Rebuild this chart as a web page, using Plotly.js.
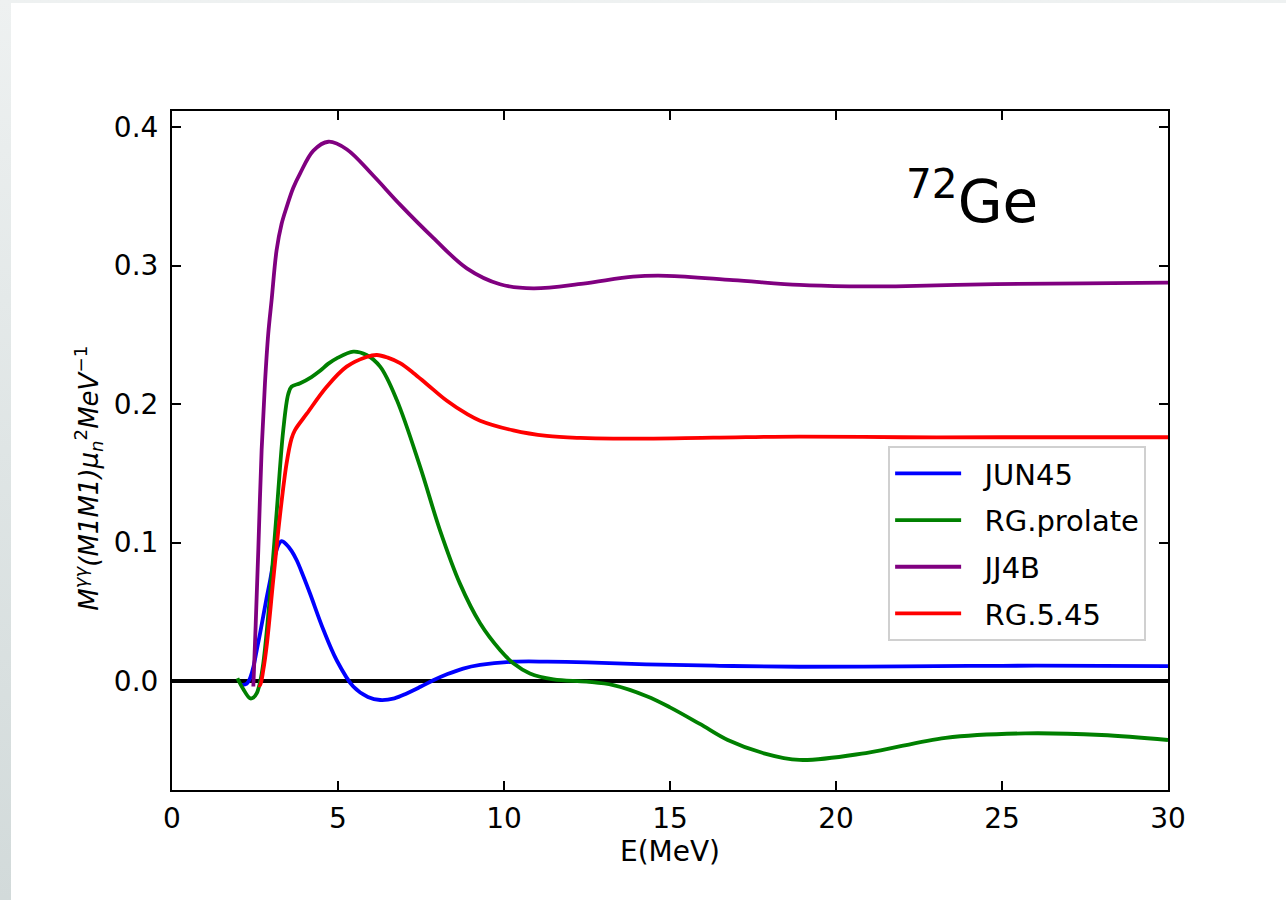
<!DOCTYPE html>
<html>
<head>
<meta charset="utf-8">
<script src="https://cdn.plot.ly/plotly-3.0.1.min.js"></script>
<style>
  html, body { margin: 0; padding: 0; width: 1286px; height: 900px; overflow: hidden;
    background: linear-gradient(to bottom, #eef1f1 0%, #dfe5e5 50%, #d2dada 100%); }
  #chart { position: absolute; left: 11px; top: 3px; width: 1275px; height: 897px; background: #ffffff; }
</style>
</head>
<body>
<div id="chart"></div>
<script>
// ---- data ----
const seriesNames = ["JUN45", "RG.prolate", "JJ4B", "RG.5.45"];

const jun45E = [2.1, 2.25, 2.35, 2.45, 2.55, 2.65, 2.85, 2.95, 3.05, 3.2, 3.3, 3.45, 3.6, 3.76, 3.95, 4.16, 4.56, 4.96, 5.46, 5.9, 6.27, 6.7, 7.07, 7.5, 7.87, 8.3, 8.77, 9.28, 10.28, 11.3, 12.5, 14.3, 16.5, 18.9, 22, 25, 28, 30];
const jun45V = [-0.003, -0.002, 0.002, 0.010, 0.022, 0.034, 0.060, 0.072, 0.085, 0.098, 0.101, 0.0985, 0.094, 0.087, 0.076, 0.063, 0.037, 0.015, -0.004, -0.0115, -0.0137, -0.0125, -0.009, -0.004, 0.0005, 0.005, 0.009, 0.0116, 0.0139, 0.014, 0.0135, 0.012, 0.011, 0.0103, 0.0105, 0.011, 0.011, 0.0108];

const prolateE = [1.97, 2.15, 2.35, 2.45, 2.55, 2.65, 2.75, 2.95, 3.15, 3.35, 3.5, 3.6, 3.86, 4.2, 4.46, 4.7, 4.96, 5.46, 5.86, 6.27, 6.77, 7.47, 8.07, 8.67, 9.28, 9.88, 10.28, 10.78, 11.49, 12.49, 13.29, 14.3, 15.0, 15.9, 16.74, 17.8, 18.9, 20.9, 23.3, 25.7, 28.0, 30];
const prolateV = [0.002, -0.006, -0.0125, -0.012, -0.009, -0.001, 0.0128, 0.061, 0.121, 0.181, 0.207, 0.2125, 0.215, 0.2195, 0.224, 0.229, 0.233, 0.2378, 0.2354, 0.227, 0.203, 0.155, 0.109, 0.0705, 0.0417, 0.0224, 0.0128, 0.0055, 0.0012, -0.0005, -0.003, -0.011, -0.019, -0.031, -0.0426, -0.052, -0.057, -0.052, -0.041, -0.0378, -0.039, -0.0426];

const jj4bE = [2.45, 2.52, 2.6, 2.7, 2.8, 2.9, 3.0, 3.15, 3.3, 3.45, 3.65, 3.86, 4.26, 4.71, 5.26, 6.06, 6.87, 7.87, 8.88, 9.88, 10.88, 12.39, 13.89, 14.9, 16.9, 18.9, 20.4, 21.8, 24.8, 27.5, 30];
const jj4bV = [-0.004, 0.04, 0.095, 0.167, 0.215, 0.251, 0.275, 0.311, 0.330, 0.342, 0.356, 0.3666, 0.383, 0.3894, 0.384, 0.365, 0.344, 0.320, 0.298, 0.2865, 0.2835, 0.287, 0.292, 0.2926, 0.2895, 0.286, 0.285, 0.285, 0.2866, 0.2872, 0.2876];

const rg545E = [2.6, 2.65, 2.75, 2.85, 3.05, 3.25, 3.45, 3.6, 3.7, 4.06, 4.66, 5.26, 5.86, 6.17, 6.5, 6.87, 7.27, 7.67, 8.27, 8.87, 9.28, 10.28, 11.29, 12.3, 13.29, 16.3, 18.9, 22, 25, 30];
const rg545V = [-0.003, -0.003, 0.008, 0.025, 0.073, 0.119, 0.157, 0.175, 0.181, 0.193, 0.2125, 0.227, 0.234, 0.2354, 0.2335, 0.2295, 0.2225, 0.2145, 0.2025, 0.193, 0.188, 0.181, 0.177, 0.1755, 0.175, 0.1757, 0.1765, 0.176, 0.176, 0.176];

const xTickVals = [0, 5, 10, 15, 20, 25, 30];
const yTickVals = [0.0, 0.1, 0.2, 0.3, 0.4];
const yTickText = ["0.0", "0.1", "0.2", "0.3", "0.4"];

const xTitle = "E(MeV)";
const yTitle = "<i>M</i><sup><i>γγ</i></sup><i>(M1M1)μ</i><sub><i>n</i></sub><sup>2</sup><i>MeV</i><sup>−1</sup>";
const nucleusLabel = "<sup>72</sup>Ge";

// ---- styles ----
const colors = ["#0000ff", "#008000", "#800080", "#ff0000"];
const FONT = "DejaVu Sans, sans-serif";
const legendPad = "\u00a0\u00a0";

const xs = [jun45E, prolateE, jj4bE, rg545E];
const ys = [jun45V, prolateV, jj4bV, rg545V];

const traces = seriesNames.map((n, i) => ({
  type: "scatter", mode: "lines", name: legendPad + n, legendgroup: "g" + i,
  x: xs[i], y: ys[i],
  line: { color: colors[i], width: 3.8, shape: "spline", smoothing: 1.0 }
}));

const axisCommon = {
  showline: true, linecolor: "#000", linewidth: 2, mirror: "ticks",
  ticks: "inside", ticklen: 9, tickwidth: 2, tickcolor: "#000",
  showgrid: false, tickfont: { family: FONT, size: 28, color: "#000" },
  automargin: false
};

const layout = {
  width: 1275, height: 897,
  margin: { l: 161, r: 118, t: 108, b: 110 },
  paper_bgcolor: "#ffffff", plot_bgcolor: "#ffffff",
  font: { family: FONT, color: "#000" },
  showlegend: true,
  legend: {
    x: 0.719, y: 0.5066, xanchor: "left", yanchor: "top",
    traceorder: "grouped", tracegroupgap: 6, itemwidth: 66,
    bgcolor: "rgba(255,255,255,0.8)", bordercolor: "#d0d0d0", borderwidth: 2,
    font: { family: FONT, size: 29, color: "#000" }
  },
  xaxis: Object.assign({}, axisCommon, {
    range: [0, 30], tickvals: xTickVals, ticklabelstandoff: 2,
    zeroline: false,
    title: { text: xTitle, font: { family: FONT, size: 28, color: "#000" }, standoff: 8 }
  }),
  yaxis: Object.assign({}, axisCommon, {
    range: [-0.0787, 0.4116], tickvals: yTickVals, ticktext: yTickText, ticklabelstandoff: 6,
    zeroline: true, zerolinecolor: "#000", zerolinewidth: 3.8
  }),
  annotations: [{
    xref: "paper", yref: "paper", x: 0.803, y: 0.872, xanchor: "center", yanchor: "middle",
    showarrow: false, text: nucleusLabel,
    font: { family: FONT, size: 58, color: "#000" }
  }, {
    xref: "paper", yref: "paper", x: -0.084, y: 0.459, xanchor: "center", yanchor: "middle",
    showarrow: false, textangle: -90, text: yTitle,
    font: { family: FONT, size: 26, color: "#000" }
  }]
};

Plotly.newPlot("chart", traces, layout, { displayModeBar: false, staticPlot: true });
</script>
</body>
</html>
